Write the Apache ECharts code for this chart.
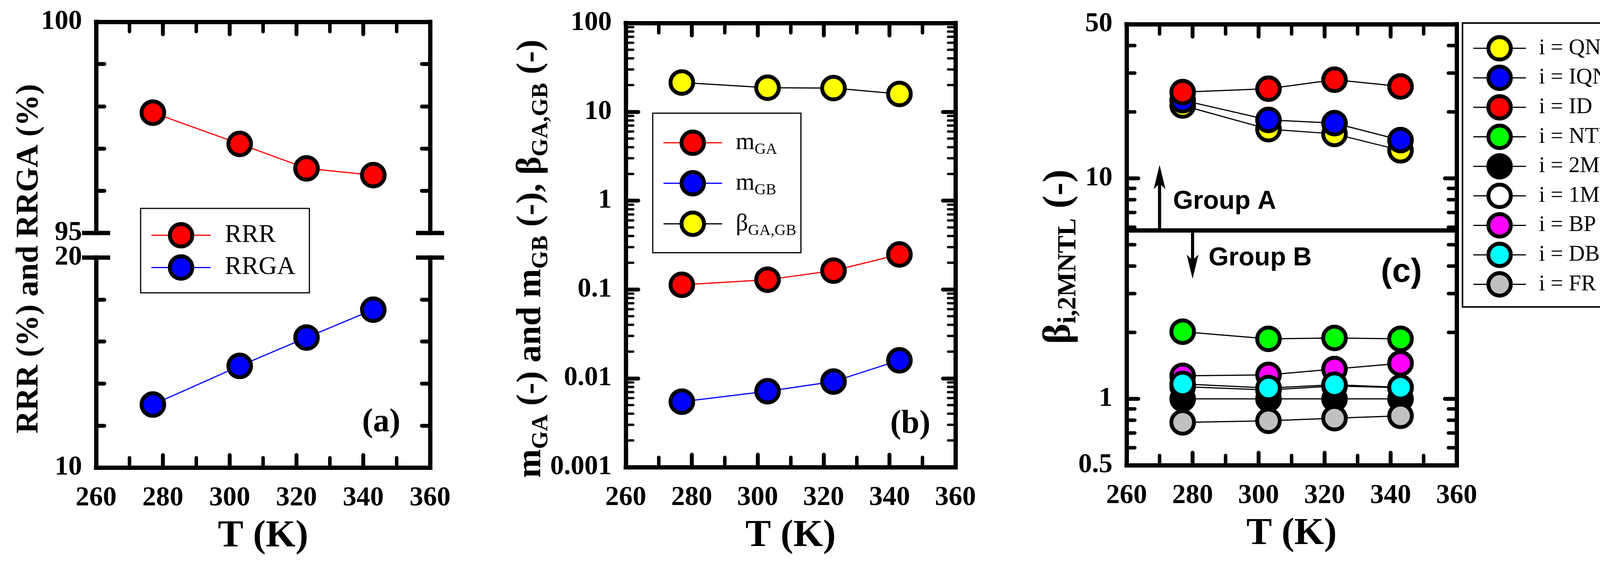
<!DOCTYPE html>
<html>
<head>
<meta charset="utf-8">
<script src="https://cdn.jsdelivr.net/npm/echarts@6/dist/echarts.min.js"></script>
<style>
html, body { margin: 0; padding: 0; background: #fff; }
#main { width: 4264px; height: 1440px; }
</style>
</head>
<body>
<div id="main"></div>
<script>
// temperatures (K)
var temps = [277, 303, 323, 343];

// panel (a)
var rrr = [97.85, 97.11, 96.53, 96.37];
var rrga = [13.0, 14.84, 16.19, 17.52];

// panel (b)
var mGA = [0.113, 0.129, 0.163, 0.248];
var mGB = [0.00546, 0.00716, 0.0092, 0.01596];
var betaGAGB = [21.4, 18.7, 18.5, 15.9];

// panel (c)
var qnl = [21.4, 16.7, 15.9, 13.4];
var iqnl = [22.6, 18.4, 17.8, 14.9];
var idd = [24.6, 25.5, 28.0, 26.1];
var ntl = [2.016, 1.871, 1.888, 1.871];
var mntl2 = [1, 1, 1, 1];
var mntl1 = [1.136, 1.097, 1.144, 1.124];
var bp = [1.272, 1.284, 1.365, 1.449];
var dbf = [1.168, 1.119, 1.159, 1.127];
var fr = [0.782, 0.795, 0.817, 0.837];

// group A / group B split and arrows in (c): [T, from, to]
var groupSplit = 5.8;
var groupArrows = [[270, 5.8, 11.5], [280, 5.8, 3.5]];

// log minor ticks
var minorTicksB = [0.002, 0.003, 0.004, 0.005, 0.006, 0.007, 0.008, 0.009,
  0.02, 0.03, 0.04, 0.05, 0.06, 0.07, 0.08, 0.09,
  0.2, 0.3, 0.4, 0.5, 0.6, 0.7, 0.8, 0.9,
  2, 3, 4, 5, 6, 7, 8, 9,
  20, 30, 40, 50, 60, 70, 80, 90];
var minorTicksC = [0.6, 0.7, 0.8, 0.9, 2, 3, 4, 5, 6, 7, 8, 9, 20, 30, 40];

var SERIF = 'Liberation Serif';
var SANS = 'Liberation Sans';

function pairs(xs, ys) {
  return xs.map(function (x, i) { return [x, ys[i]]; });
}

var tickLabel = { color: '#000', fontFamily: SERIF, fontWeight: 'bold', fontSize: 70 };
var axisNameStyle = { color: '#000', fontFamily: SERIF, fontWeight: 'bold', fontSize: 98 };
var lineBox = { show: true, onZero: false, lineStyle: { color: '#000', width: 11, cap: 'square' } };

function xAxisOf(grid, pos, withLabels) {
  return {
    type: 'value', gridIndex: grid, position: pos, min: 260, max: 360, interval: 20,
    axisLine: lineBox,
    axisTick: { show: true, inside: true, length: 32, lineStyle: { color: '#000', width: 10, cap: 'round' } },
    minorTick: { show: true, splitNumber: 2, length: 25, lineStyle: { color: '#000', width: 9, cap: 'round' } },
    axisLabel: withLabels ? Object.assign({ show: true, margin: 44 }, tickLabel) : { show: false },
    splitLine: { show: false },
    name: withLabels ? 'T (K)' : '',
    nameLocation: 'middle', nameGap: 128, nameTextStyle: axisNameStyle
  };
}

function linYAxis(grid, pos, min, max, step, withLabels, tickLen) {
  return {
    type: 'value', gridIndex: grid, position: pos, min: min, max: max, interval: step,
    axisLine: lineBox,
    axisTick: { show: true, inside: true, length: tickLen, lineStyle: { color: '#000', width: 10, cap: 'round' } },
    axisLabel: withLabels ? Object.assign({
      show: true, margin: 36,
      formatter: function (v) { return (Math.abs(v - min) < 1e-6 || Math.abs(v - max) < 1e-6) ? String(Math.round(v)) : ''; }
    }, tickLabel) : { show: false },
    splitLine: { show: false }
  };
}

function logYAxis(grid, pos, min, max, withLabels, tickLen) {
  return {
    type: 'log', logBase: 10, gridIndex: grid, position: pos, min: min, max: max,
    axisLine: lineBox,
    axisTick: { show: true, inside: true, length: tickLen, lineStyle: { color: '#000', width: 10, cap: 'round' } },
    axisLabel: withLabels ? Object.assign({
      show: true, margin: 36,
      formatter: function (v) { return String(+(+v).toPrecision(3)); }
    }, tickLabel) : { show: false },
    splitLine: { show: false }
  };
}

function dotSeries(name, xi, yi, ys, fill, lineColor) {
  return {
    name: name, type: 'line', xAxisIndex: xi, yAxisIndex: yi,
    data: pairs(temps, ys),
    symbol: 'circle', symbolSize: 58, showAllSymbol: true, clip: false,
    lineStyle: { color: lineColor, width: 3 },
    itemStyle: { color: fill, borderColor: '#000', borderWidth: 10, opacity: 1 },
    emphasis: { disabled: true }
  };
}

// minor ticks of the log axes, drawn on both sides of the frame
function minorTickSeries(xi, yi, values, len, w) {
  return {
    type: 'custom', xAxisIndex: xi, yAxisIndex: yi, silent: true, z: 4, clip: false,
    data: values.map(function (v) { return [260, v]; }),
    renderItem: function (params, api) {
      var p = api.coord([api.value(0), api.value(1)]);
      var cs = params.coordSys;
      return {
        type: 'group',
        children: [
          { type: 'line', shape: { x1: cs.x, y1: p[1], x2: cs.x + len, y2: p[1] },
            style: { stroke: '#000', lineWidth: w, lineCap: 'round' } },
          { type: 'line', shape: { x1: cs.x + cs.width, y1: p[1], x2: cs.x + cs.width - len, y2: p[1] },
            style: { stroke: '#000', lineWidth: w, lineCap: 'round' } }
        ]
      };
    }
  };
}

function label(x, y, text, family, size) {
  return {
    type: 'text', x: x, y: y,
    style: { text: text, fontFamily: family, fontWeight: 'bold', fontSize: size, fill: '#000',
      align: 'left', verticalAlign: 'middle' }
  };
}

function breakMark(x, y) {
  return { type: 'line', shape: { x1: x - 36, y1: y, x2: x + 36, y2: y }, style: { stroke: '#000', lineWidth: 11 } };
}

var legendBase = {
  orient: 'vertical', selectedMode: false, borderColor: '#000', backgroundColor: '#fff',
  itemHeight: 72,
  itemStyle: { borderColor: '#000', borderWidth: 10 },
  lineStyle: { width: 3 }
};

var chart = echarts.init(document.getElementById('main'));

var option = {
  animation: false,
  backgroundColor: '#fff',
  grid: [
    { left: 246, top: 56, width: 855, height: 541, outerBoundsMode: 'none' },
    { left: 246, top: 660, width: 855, height: 538, outerBoundsMode: 'none' },
    { left: 1602, top: 59, width: 844, height: 1138, outerBoundsMode: 'none' },
    { left: 2884, top: 62, width: 845, height: 1130, outerBoundsMode: 'none' }
  ],
  xAxis: [
    xAxisOf(0, 'top', false),
    xAxisOf(1, 'bottom', true),
    xAxisOf(2, 'bottom', true),
    xAxisOf(2, 'top', false),
    xAxisOf(3, 'bottom', true),
    xAxisOf(3, 'top', false)
  ],
  yAxis: [
    linYAxis(0, 'left', 95, 100, 1, true, 21),
    linYAxis(0, 'right', 95, 100, 1, false, 21),
    linYAxis(1, 'left', 10, 20, 2, true, 21),
    linYAxis(1, 'right', 10, 20, 2, false, 21),
    logYAxis(2, 'left', 0.001, 100, true, 32),
    logYAxis(2, 'right', 0.001, 100, false, 32),
    logYAxis(3, 'left', 0.5, 50, true, 30),
    logYAxis(3, 'right', 0.5, 50, false, 30)
  ],
  legend: [
    Object.assign({}, legendBase, {
      data: ['RRR', 'RRGA'], left: 360, top: 534,
      padding: [35, 36, 31, 26], itemGap: 15, itemWidth: 152, borderWidth: 3,
      textStyle: { color: '#000', fontFamily: SERIF, fontSize: 65, padding: [0, 0, 0, 31] }
    }),
    Object.assign({}, legendBase, {
      data: ['mGA', 'mGB', 'bGAGB'], left: 1671, top: 290,
      padding: [42, 12, 36, 26], itemGap: 32, itemWidth: 150, borderWidth: 3,
      formatter: function (n) {
        return { mGA: '{m|m}{s|GA}', mGB: '{m|m}{s|GB}', bGAGB: '{m|β}{s|GA,GB}' }[n];
      },
      textStyle: {
        color: '#000', fontFamily: SERIF, fontSize: 60, padding: [0, 0, 0, 30],
        rich: {
          m: { fontFamily: SERIF, fontSize: 62, color: '#000' },
          s: { fontFamily: SERIF, fontSize: 40, color: '#000', padding: [36, 0, 0, 0] }
        }
      }
    }),
    Object.assign({}, legendBase, {
      data: ['i = QNL', 'i = IQNL', 'i = ID', 'i = NTL', 'i = 2MNTL', 'i = 1MNTL', 'i = BP', 'i = DBF', 'i = FR'],
      left: 3744, top: 59,
      padding: [31, 18, 24, 26], itemGap: 8, itemWidth: 135, borderWidth: 4,
      textStyle: { color: '#000', fontFamily: SERIF, fontSize: 57, padding: [0, 0, 0, 28] }
    })
  ],
  series: [
    dotSeries('RRR', 0, 0, rrr, '#ff0000', '#ff0000'),
    dotSeries('RRGA', 1, 2, rrga, '#0000ff', '#0000ff'),

    minorTickSeries(2, 4, minorTicksB, 19, 6),
    dotSeries('mGA', 2, 4, mGA, '#ff0000', '#ff0000'),
    dotSeries('mGB', 2, 4, mGB, '#0000ff', '#0000ff'),
    dotSeries('bGAGB', 2, 4, betaGAGB, '#ffff00', '#000000'),

    minorTickSeries(4, 6, minorTicksC, 21, 9),
    {
      type: 'lines', coordinateSystem: 'cartesian2d', xAxisIndex: 4, yAxisIndex: 6, silent: true,
      data: [{ coords: [[260, groupSplit], [360, groupSplit]] }],
      symbol: 'none',
      lineStyle: { color: '#000', width: 11, opacity: 1 }
    },
    {
      type: 'custom', xAxisIndex: 4, yAxisIndex: 6, silent: true, clip: false,
      data: groupArrows,
      renderItem: function (params, api) {
        var a = api.coord([api.value(0), api.value(1)]);
        var b = api.coord([api.value(0), api.value(2)]);
        var dir = b[1] < a[1] ? -1 : 1;
        var base = b[1] - dir * 62;
        return {
          type: 'group',
          children: [
            { type: 'line', shape: { x1: a[0], y1: a[1], x2: b[0], y2: base + dir * 14 },
              style: { stroke: '#000', lineWidth: 8 } },
            { type: 'polygon',
              shape: { points: [[b[0], b[1]], [b[0] - 15, base], [b[0], base + dir * 14], [b[0] + 15, base]] },
              style: { fill: '#000' } }
          ]
        };
      }
    },
    dotSeries('i = QNL', 4, 6, qnl, '#ffff00', '#000000'),
    dotSeries('i = IQNL', 4, 6, iqnl, '#0000ff', '#000000'),
    dotSeries('i = ID', 4, 6, idd, '#ff0000', '#000000'),
    dotSeries('i = NTL', 4, 6, ntl, '#00ff00', '#000000'),
    dotSeries('i = 2MNTL', 4, 6, mntl2, '#000000', '#000000'),
    dotSeries('i = 1MNTL', 4, 6, mntl1, '#ffffff', '#000000'),
    dotSeries('i = BP', 4, 6, bp, '#ff00ff', '#000000'),
    dotSeries('i = DBF', 4, 6, dbf, '#00ffff', '#000000'),
    dotSeries('i = FR', 4, 6, fr, '#c0c0c0', '#000000')
  ],
  graphic: [
    // axis break of panel (a)
    breakMark(246, 597), breakMark(246, 660), breakMark(1101, 597), breakMark(1101, 660),

    { type: 'text', x: 75, y: 663, rotation: Math.PI / 2,
      style: { text: '{m|RRR (%) and RRGA (%)}', fill: '#000', align: 'center', verticalAlign: 'middle',
        rich: { m: { fontFamily: SERIF, fontWeight: 'bold', fontSize: 81, fill: '#000' } } } },
    { type: 'text', x: 1360, y: 663, rotation: Math.PI / 2,
      style: { text: '{m|m}{s|GA}{m| (-) and m}{s|GB}{m| (-), β}{s|GA,GB}{m| (-)}', fill: '#000',
        align: 'center', verticalAlign: 'middle',
        rich: {
          m: { fontFamily: SERIF, fontWeight: 'bold', fontSize: 89, fill: '#000' },
          s: { fontFamily: SERIF, fontWeight: 'bold', fontSize: 59, fill: '#000', padding: [52, 0, 0, 0] }
        } } },
    { type: 'text', x: 2712, y: 658, rotation: Math.PI / 2,
      style: { text: '{m|β}{s|i,2MNTL}{m| (-)}', fill: '#000', align: 'center', verticalAlign: 'middle',
        rich: {
          m: { fontFamily: SERIF, fontWeight: 'bold', fontSize: 100, fill: '#000' },
          s: { fontFamily: SERIF, fontWeight: 'bold', fontSize: 67, fill: '#000', padding: [48, 0, 0, 0] }
        } } },

    label(927, 1083, '(a)', SERIF, 84),
    label(2279, 1087, '(b)', SERIF, 84),
    label(3535, 698, '(c)', SANS, 86),
    label(3003, 517, 'Group A', SANS, 66),
    label(3094, 662, 'Group B', SANS, 66)
  ]
};

chart.setOption(option);
</script>
</body>
</html>
